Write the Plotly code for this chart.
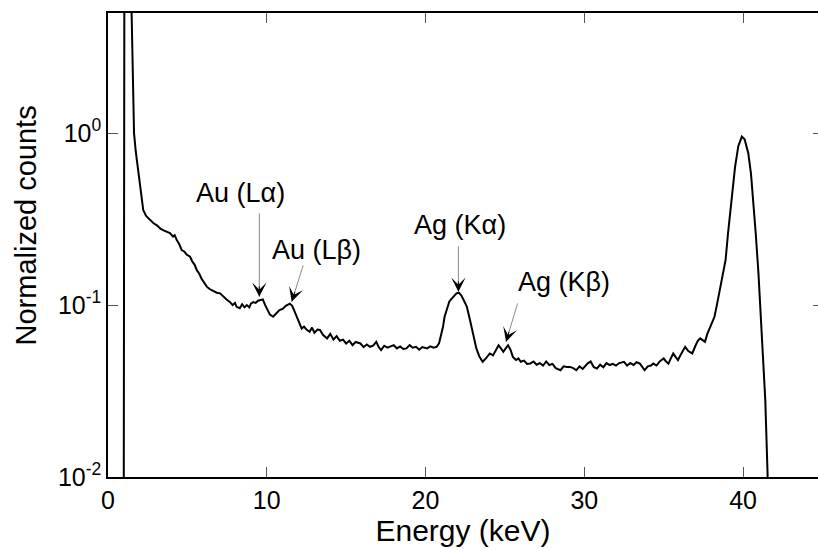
import math
import plotly.graph_objects as go

# Spectrum: energy (keV) and normalized counts
energy = [0.98, 1.04, 1.25, 1.425, 1.49, 1.56, 1.64, 1.75, 1.87, 2.02, 2.12, 2.22, 2.4, 2.6, 2.85,
          3.1, 3.3, 3.5, 3.7, 3.9, 4.1, 4.2, 4.33, 4.5, 4.64, 4.8, 4.95, 5.17, 5.3, 5.45, 5.59,
          5.75, 5.9, 6.05, 6.22, 6.4, 6.6, 6.85, 7.06, 7.25, 7.45, 7.69, 7.85, 8.0, 8.1, 8.3,
          8.45, 8.6, 8.74, 8.9, 9.0, 9.15, 9.3, 9.45, 9.6, 9.75, 9.9, 10.05, 10.2, 10.4, 10.6,
          10.8, 11.0, 11.2, 11.45, 11.6, 11.75, 11.9, 12.05, 12.2, 12.35, 12.5, 12.7, 12.85,
          13.0, 13.2, 13.35, 13.55, 13.8, 14.0, 14.2, 14.4, 14.6, 14.8, 15.0, 15.2, 15.4, 15.6,
          15.9, 16.1, 16.3, 16.5, 16.7, 16.9, 17.05, 17.2, 17.4, 17.6, 17.8, 18.0, 18.2, 18.4,
          18.6, 18.8, 19.0, 19.2, 19.4, 19.6, 19.8, 20.1, 20.3, 20.5, 20.7, 20.85, 21.0, 21.1,
          21.2, 21.35, 21.5, 21.65, 21.8, 21.95, 22.1, 22.25, 22.4, 22.6, 22.8, 23.0, 23.2,
          23.4, 23.6, 23.8, 24.05, 24.25, 24.45, 24.6, 24.75, 24.9, 25.05, 25.2, 25.35, 25.5,
          25.7, 25.85, 26.0, 26.2, 26.4, 26.6, 26.8, 27.0, 27.2, 27.4, 27.6, 27.8, 28.0, 28.2,
          28.5, 28.7, 28.9, 29.1, 29.3, 29.5, 29.7, 29.9, 30.2, 30.4, 30.6, 30.8, 31.0, 31.2,
          31.4, 31.6, 31.8, 32.0, 32.2, 32.5, 32.7, 32.9, 33.1, 33.3, 33.5, 33.65, 33.8, 34.0,
          34.2, 34.35, 34.55, 34.75, 35.0, 35.15, 35.3, 35.45, 35.6, 35.75, 35.9, 36.1, 36.35,
          36.55, 36.8, 37.0, 37.15, 37.3, 37.45, 37.6, 37.75, 37.9, 38.05, 38.2, 38.35, 38.5,
          38.7, 38.9, 39.05, 39.2, 39.35, 39.5, 39.7, 39.92, 40.1, 40.33, 40.5, 40.65, 40.8,
          40.97, 41.17, 41.4, 41.55, 41.7]
counts = [0.0008, 40, 60, 10, 5.0, 2.0, 1.0, 0.78, 0.637, 0.468, 0.41, 0.357, 0.33, 0.315, 0.30,
          0.29, 0.278, 0.272, 0.268, 0.262, 0.25, 0.255, 0.239, 0.225, 0.209, 0.205, 0.197, 0.191,
          0.18, 0.172, 0.16, 0.152, 0.142, 0.135, 0.128, 0.124, 0.121, 0.118, 0.117, 0.112, 0.108,
          0.104, 0.1, 0.103, 0.0977, 0.096, 0.101, 0.097, 0.1, 0.097, 0.102, 0.104, 0.103, 0.106,
          0.107, 0.108, 0.1, 0.093, 0.088, 0.0855, 0.09, 0.0935, 0.095, 0.099, 0.102, 0.099,
          0.092, 0.0855, 0.078, 0.073, 0.075, 0.072, 0.07, 0.074, 0.069, 0.072, 0.0717, 0.067,
          0.064, 0.068, 0.063, 0.066, 0.062, 0.063, 0.0598, 0.062, 0.0585, 0.061, 0.0598, 0.057,
          0.059, 0.0572, 0.058, 0.0611, 0.057, 0.0547, 0.058, 0.0565, 0.0575, 0.0584, 0.056,
          0.0575, 0.0555, 0.056, 0.0585, 0.0565, 0.0572, 0.055, 0.057, 0.056, 0.0575, 0.0565,
          0.0572, 0.06, 0.0684, 0.0748, 0.0855, 0.095, 0.105, 0.109, 0.113, 0.117, 0.118, 0.114,
          0.107, 0.098, 0.082, 0.0684, 0.056, 0.05, 0.0468, 0.049, 0.0523, 0.051, 0.055, 0.0584,
          0.056, 0.0535, 0.056, 0.0584, 0.055, 0.05, 0.0479, 0.049, 0.0468, 0.0475, 0.0455,
          0.0457, 0.047, 0.045, 0.046, 0.0445, 0.047, 0.0448, 0.0455, 0.043, 0.0418, 0.044,
          0.0437, 0.0437, 0.043, 0.0418, 0.044, 0.0425, 0.0457, 0.047, 0.0435, 0.0428, 0.045,
          0.0435, 0.046, 0.0448, 0.0455, 0.0445, 0.046, 0.0468, 0.0445, 0.046, 0.0448, 0.0465,
          0.0457, 0.0435, 0.0418, 0.044, 0.0445, 0.0457, 0.0445, 0.047, 0.0489, 0.047, 0.0457,
          0.049, 0.0523, 0.05, 0.0479, 0.052, 0.0572, 0.054, 0.0523, 0.058, 0.062, 0.064, 0.0625,
          0.0611, 0.068, 0.073, 0.079, 0.0855, 0.1, 0.117, 0.145, 0.183, 0.26, 0.357, 0.48, 0.64,
          0.84, 0.955, 0.92, 0.764, 0.58, 0.409, 0.26, 0.153, 0.0684, 0.028, 0.01, 0.004]

# Peak labels: text, arrow tip (keV, counts), tail offset (px), text centre (keV, counts)
label_text = ["Au (Lα)", "Au (Lβ)", "Ag (Kα)", "Ag (Kβ)"]
tip_x = [9.53, 11.57, 22.07, 25.07]
tip_y = [0.1117, 0.1045, 0.1194, 0.0611]
tail_dx = [0, 12, 0, 12]
tail_dy = [-85, -38, -47, -40]
text_x = [8.35, 13.15, 22.17, 28.72]
text_y = [0.448, 0.209, 0.292, 0.137]

x_ticks = [0, 10, 20, 30, 40]
y_tickvals = [0.01, 0.1, 1]
y_ticktext = ["10<sup>-2</sup>", "10<sup>-1</sup>", "10<sup>0</sup>"]

FONT = "Arial, Liberation Sans, Helvetica, sans-serif"

fig = go.Figure()
fig.add_trace(go.Scatter(x=energy, y=counts, mode="lines",
                         line=dict(color="black", width=2), showlegend=False,
                         hoverinfo="skip"))
fig.add_trace(go.Scatter(x=[None], y=[None], yaxis="y2", showlegend=False,
                         hoverinfo="skip"))

annotations = []
for t, tx, ty, dx, dy, lx, ly in zip(label_text, tip_x, tip_y, tail_dx, tail_dy, text_x, text_y):
    annotations.append(dict(x=tx, y=math.log10(ty), xref="x", yref="y", text="",
                            showarrow=True, ax=dx, ay=dy, arrowhead=0, arrowwidth=1,
                            arrowcolor="#8a8a8a"))
    L = (dx * dx + dy * dy) ** 0.5
    annotations.append(dict(x=tx, y=math.log10(ty), xref="x", yref="y", text="",
                            showarrow=True, ax=dx / L * 12, ay=dy / L * 12, arrowhead=3,
                            arrowsize=2.4, arrowwidth=1, arrowcolor="black"))
    annotations.append(dict(x=lx, y=math.log10(ly), xref="x", yref="y", text=t,
                            showarrow=False,
                            font=dict(family=FONT, size=27, color="black"),
                            xanchor="center", yanchor="middle"))
annotations.append(dict(x=-0.1155, y=0.542, xref="paper", yref="paper",
                        text="Normalized counts", textangle=-90, showarrow=False,
                        font=dict(family=FONT, size=29, color="black"),
                        xanchor="center", yanchor="middle"))

fig.update_layout(
    width=818, height=549,
    margin=dict(l=108, r=0, t=13, b=72),
    paper_bgcolor="white", plot_bgcolor="white",
    font=dict(family=FONT, color="black"),
    hovermode=False,
    annotations=annotations,
    xaxis=dict(range=[0, 44.72], tickvals=x_ticks, ticks="inside", ticklen=10,
               tickwidth=1, tickcolor="#555", showline=True, linecolor="black",
               linewidth=1.5, mirror="ticks", showgrid=False, zeroline=False,
               tickfont=dict(size=25, family=FONT),
               title=dict(text="Energy (keV)", font=dict(size=30, family=FONT), standoff=6)),
    yaxis=dict(type="log", range=[-2, 0.699], tickvals=y_tickvals, ticktext=y_ticktext,
               ticks="inside", ticklen=10, tickwidth=1, tickcolor="#555",
               showline=True, linecolor="black", linewidth=1.5, mirror=False,
               showgrid=False, zeroline=False, tickfont=dict(size=25, family=FONT)),
    yaxis2=dict(type="log", range=[-2, 0.699], overlaying="y", side="right",
                tickvals=y_tickvals, ticks="inside", ticklen=5, tickwidth=1,
                tickcolor="#555", showticklabels=False, showline=False,
                showgrid=False, zeroline=False),
)

fig.write_html("out.html")
